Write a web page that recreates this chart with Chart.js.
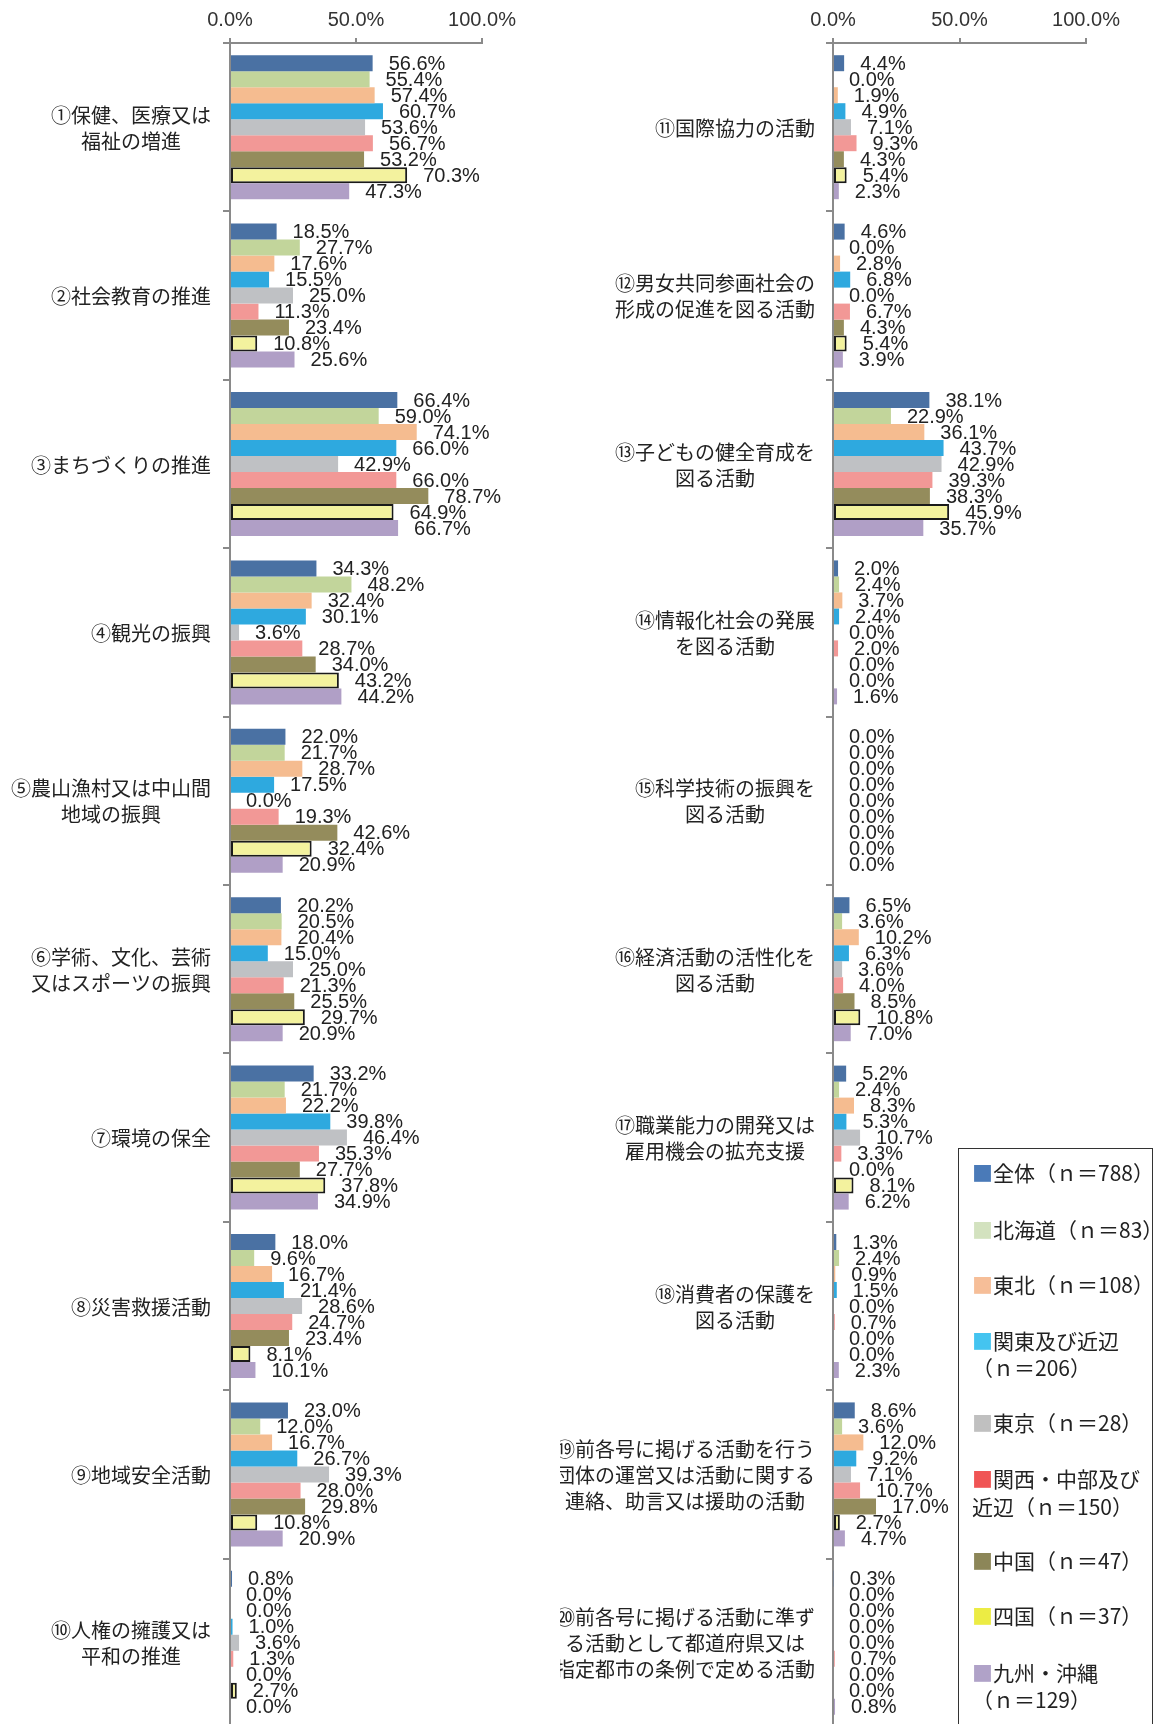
<!DOCTYPE html>
<html lang="ja">
<head>
<meta charset="utf-8">
<title>活動分野別の割合</title>
<script src="https://cdn.jsdelivr.net/npm/chart.js@4.4.1/dist/chart.umd.min.js"></script>
<style>
  html, body { margin: 0; padding: 0; background: #fff; }
  #page { position: relative; width: 1154px; height: 1724px; overflow: hidden; }
  #chartLeft { position: absolute; left: 0; top: 0; }
  #chartRight { position: absolute; left: 560px; top: 0; }
  #legend {
    position: absolute; left: 958px; top: 1148px; width: 195px; height: 620px;
    border: 1.5px solid #333; box-sizing: border-box; background: #fff;
    font-family: "Noto Sans CJK JP", sans-serif; font-size: 21px; color: #222;
  }
  #legend div { position: absolute; left: 13px; white-space: nowrap; line-height: 26px; }
</style>
</head>
<body>
<div id="page">
  <canvas id="chartLeft" width="560" height="1740"></canvas>
  <canvas id="chartRight" width="594" height="1740"></canvas>
  <div id="legend"></div>
</div>
<script>
// 活動分野（①〜⑳）
const categories = [
  '①保健、医療又は\n福祉の増進',
  '②社会教育の推進',
  '③まちづくりの推進',
  '④観光の振興',
  '⑤農山漁村又は中山間\n地域の振興',
  '⑥学術、文化、芸術\n又はスポーツの振興',
  '⑦環境の保全',
  '⑧災害救援活動',
  '⑨地域安全活動',
  '⑩人権の擁護又は\n平和の推進',
  '⑪国際協力の活動',
  '⑫男女共同参画社会の\n形成の促進を図る活動',
  '⑬子どもの健全育成を\n図る活動',
  '⑭情報化社会の発展\nを図る活動',
  '⑮科学技術の振興を\n図る活動',
  '⑯経済活動の活性化を\n図る活動',
  '⑰職業能力の開発又は\n雇用機会の拡充支援',
  '⑱消費者の保護を\n図る活動',
  '⑲前各号に掲げる活動を行う\n団体の運営又は活動に関する\n連絡、助言又は援助の活動',
  '⑳前各号に掲げる活動に準ず\nる活動として都道府県又は\n指定都市の条例で定める活動'
];

// 地域ごとの割合（%）
const zentai   = [56.6, 18.5, 66.4, 34.3, 22.0, 20.2, 33.2, 18.0, 23.0, 0.8, 4.4, 4.6, 38.1, 2.0, 0.0, 6.5, 5.2, 1.3, 8.6, 0.3];
const hokkaido = [55.4, 27.7, 59.0, 48.2, 21.7, 20.5, 21.7, 9.6, 12.0, 0.0, 0.0, 0.0, 22.9, 2.4, 0.0, 3.6, 2.4, 2.4, 3.6, 0.0];
const tohoku   = [57.4, 17.6, 74.1, 32.4, 28.7, 20.4, 22.2, 16.7, 16.7, 0.0, 1.9, 2.8, 36.1, 3.7, 0.0, 10.2, 8.3, 0.9, 12.0, 0.0];
const kanto    = [60.7, 15.5, 66.0, 30.1, 17.5, 15.0, 39.8, 21.4, 26.7, 1.0, 4.9, 6.8, 43.7, 2.4, 0.0, 6.3, 5.3, 1.5, 9.2, 0.0];
const tokyo    = [53.6, 25.0, 42.9, 3.6, 0.0, 25.0, 46.4, 28.6, 39.3, 3.6, 7.1, 0.0, 42.9, 0.0, 0.0, 3.6, 10.7, 0.0, 7.1, 0.0];
const kansai   = [56.7, 11.3, 66.0, 28.7, 19.3, 21.3, 35.3, 24.7, 28.0, 1.3, 9.3, 6.7, 39.3, 2.0, 0.0, 4.0, 3.3, 0.7, 10.7, 0.7];
const chugoku  = [53.2, 23.4, 78.7, 34.0, 42.6, 25.5, 27.7, 23.4, 29.8, 0.0, 4.3, 4.3, 38.3, 0.0, 0.0, 8.5, 0.0, 0.0, 17.0, 0.0];
const shikoku  = [70.3, 10.8, 64.9, 43.2, 32.4, 29.7, 37.8, 8.1, 10.8, 2.7, 5.4, 5.4, 45.9, 0.0, 0.0, 10.8, 8.1, 0.0, 2.7, 0.0];
const kyushu   = [47.3, 25.6, 66.7, 44.2, 20.9, 20.9, 34.9, 10.1, 20.9, 0.0, 2.3, 3.9, 35.7, 1.6, 0.0, 7.0, 6.2, 2.3, 4.7, 0.8];

const seriesNames = ['全体（ｎ＝788）', '北海道（ｎ＝83）', '東北（ｎ＝108）', '関東及び近辺（ｎ＝206）',
  '東京（ｎ＝28）', '関西・中部及び近辺（ｎ＝150）', '中国（ｎ＝47）', '四国（ｎ＝37）', '九州・沖縄（ｎ＝129）'];
const seriesData = [zentai, hokkaido, tohoku, kanto, tokyo, kansai, chugoku, shikoku, kyushu];
const barColors = ['#4a71a3', '#c2d59b', '#f5bc90', '#2ea9df', '#bfc1c4', '#f29896', '#948c5c', '#f3f29e', '#b09fc6'];
const legendColors = ['#4a7ab8', '#d3e2bf', '#f6be98', '#44c4f0', '#c0c0c0', '#f05454', '#8c8658', '#ecec44', '#b0a2c8'];
const xTicks = [0, 50, 100];

const axisGray = '#8a8a8a';

// 棒の右に値を表示
const valueLabels = {
  id: 'valueLabels',
  afterDatasetsDraw(chart) {
    const ctx = chart.ctx;
    ctx.save();
    ctx.font = '20px "Liberation Sans", Arial, sans-serif';
    ctx.fillStyle = '#222';
    ctx.textAlign = 'left';
    ctx.textBaseline = 'middle';
    chart.data.datasets.forEach((ds, i) => {
      chart.getDatasetMeta(i).data.forEach((bar, j) => {
        ctx.fillText(ds.data[j].toFixed(1) + '%', bar.x + 16, bar.y + 1);
      });
    });
    ctx.restore();
  }
};

// 項目名：複数行は中央揃えにしてブロックごと右寄せ
const categoryLabels = {
  id: 'categoryLabels',
  afterDraw(chart, args, opts) {
    const ctx = chart.ctx;
    const yScale = chart.scales.y;
    ctx.save();
    ctx.font = '20px "Noto Sans CJK JP", sans-serif';
    ctx.fillStyle = '#222';
    ctx.textAlign = 'center';
    ctx.textBaseline = 'middle';
    chart.data.labels.forEach((label, i) => {
      const lines = label.split('\n');
      const w = Math.max(...lines.map(l => ctx.measureText(l).width));
      const cx = opts.right - w / 2;
      const cy = yScale.getPixelForValue(i) + 1;
      lines.forEach((line, j) => {
        ctx.fillText(line, cx, cy + (j - (lines.length - 1) / 2) * 26);
      });
    });
    ctx.restore();
  }
};

function makeChart(id, from, to, axisLeft, padRight, labelRight) {
  return new Chart(document.getElementById(id), {
    type: 'bar',
    data: {
      labels: categories.slice(from, to),
      datasets: seriesData.map((values, k) => ({
        label: seriesNames[k],
        data: values.slice(from, to),
        backgroundColor: barColors[k],
        borderColor: k === 7 ? '#1a1a1a' : barColors[k],
        borderWidth: k === 7 ? (c => (c.raw > 0 ? 2 : 0)) : 0,
        borderSkipped: false,
        categoryPercentage: 0.855,
        barPercentage: 1.0
      }))
    },
    options: {
      indexAxis: 'y',
      responsive: false,
      devicePixelRatio: 1,
      animation: false,
      events: [],
      layout: { padding: { left: 0, top: 0, right: padRight, bottom: 13 } },
      scales: {
        x: {
          position: 'top',
          min: 0,
          max: 100,
          afterBuildTicks: s => { s.ticks = xTicks.map(v => ({ value: v })); },
          afterFit: s => { s.height = 43; },
          ticks: {
            callback: v => v.toFixed(1) + '%',
            font: { family: '"Liberation Sans", Arial, sans-serif', size: 20 },
            color: '#333',
            padding: 6,
            maxRotation: 0
          },
          grid: { drawOnChartArea: false, drawTicks: true, tickLength: 5, color: axisGray, lineWidth: 2 },
          border: { color: axisGray, width: 2 }
        },
        y: {
          afterFit: s => { s.width = axisLeft; },
          ticks: { display: false },
          grid: { offset: true, drawOnChartArea: false, drawTicks: true, tickLength: 7, color: axisGray, lineWidth: 2 },
          border: { color: axisGray, width: 2 }
        }
      },
      plugins: {
        legend: { display: false },
        tooltip: { enabled: false },
        categoryLabels: { right: labelRight }
      }
    },
    plugins: [valueLabels, categoryLabels]
  });
}

makeChart('chartLeft', 0, 10, 230, 78, 211);
makeChart('chartRight', 10, 20, 273, 68, 255);

// 凡例（行の上端位置, 色番号, 文字）
const legendLines = [
  [10, 0, '全体（ｎ＝788）'],
  [66.5, 1, '北海道（ｎ＝83）'],
  [121.5, 2, '東北（ｎ＝108）'],
  [177.5, 3, '関東及び近辺'],
  [204.5, -1, '（ｎ＝206）'],
  [259.5, 4, '東京（ｎ＝28）'],
  [315.5, 5, '関西・中部及び'],
  [343.5, -1, '近辺（ｎ＝150）'],
  [398, 6, '中国（ｎ＝47）'],
  [452.5, 7, '四国（ｎ＝37）'],
  [509.5, 8, '九州・沖縄'],
  [536.5, -1, '（ｎ＝129）']
];
const legendBox = document.getElementById('legend');
legendLines.forEach(([top, k, text]) => {
  const line = document.createElement('div');
  line.style.top = top + 'px';
  if (k >= 0) {
    const mark = document.createElement('span');
    mark.textContent = '■';
    mark.style.color = legendColors[k];
    line.appendChild(mark);
  }
  line.appendChild(document.createTextNode(text));
  legendBox.appendChild(line);
});
</script>
</body>
</html>
